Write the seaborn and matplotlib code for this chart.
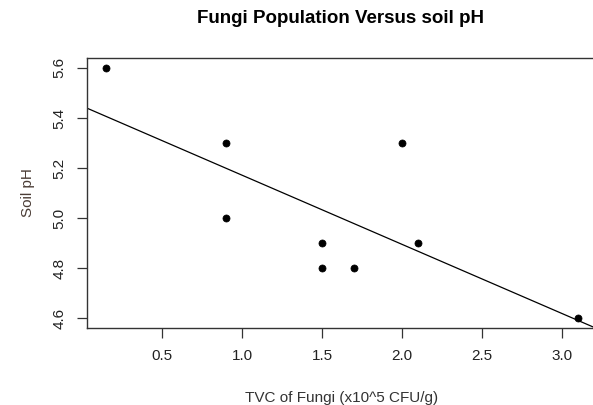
import numpy as np
import pandas as pd
import matplotlib
matplotlib.use("Agg")
import matplotlib.pyplot as plt
import seaborn as sns

# TVC of fungi (x10^5 CFU/g) and soil pH
tvc = [0.15, 0.9, 0.9, 1.5, 1.5, 1.7, 2.0, 2.1, 3.1]
ph = [5.6, 5.3, 5.0, 4.9, 4.8, 4.8, 5.3, 4.9, 4.6]
xticks = [0.5, 1.0, 1.5, 2.0, 2.5, 3.0]
yticks = [4.6, 4.8, 5.0, 5.2, 5.4, 5.6]

df = pd.DataFrame({"tvc": tvc, "ph": ph})

sns.set_style("white")
plt.rcParams["font.family"] = ["Liberation Sans", "DejaVu Sans"]

fig = plt.figure(figsize=(5.93, 4.05), dpi=100)
ax = fig.add_axes([0.1467, 0.190, 0.86, 0.667])

xlim = (0.032, 3.218)
ylim = (4.56, 5.64)
ax.set_xlim(xlim); ax.set_ylim(ylim)

sns.regplot(data=df, x="tvc", y="ph", ax=ax, scatter=False, ci=None, truncate=False,
            line_kws=dict(color="black", linewidth=0.9))
sns.scatterplot(data=df, x="tvc", y="ph", ax=ax, color="black", s=26, edgecolor="black",
                linewidth=0.5, zorder=3)
ax.set_xlim(xlim); ax.set_ylim(ylim)

ax.set_xticks(xticks)
ax.set_yticks(yticks)
ax.set_yticklabels([f"{v:.1f}" for v in yticks], rotation=90, va="center")
ax.tick_params(axis="both", direction="out", length=7, width=0.9, color="#333333",
               labelsize=11, labelcolor="#222222", bottom=True, left=True)
ax.tick_params(axis="x", pad=8)
ax.tick_params(axis="y", pad=8)

for s in ax.spines.values():
    s.set_color("#333333"); s.set_linewidth(1.0)

ax.set_xlabel("TVC of Fungi (x10^5 CFU/g)", fontsize=11, color="#333333", labelpad=20)
ax.set_ylabel("Soil pH", fontsize=11, color="#4a3c35", labelpad=12)
fig.text(0.574, 0.955, "Fungi Population Versus soil pH", ha="center", va="center",
         fontsize=13.5, fontweight="bold", color="black")

plt.savefig("out.png", dpi=100)
plt.close(fig)
